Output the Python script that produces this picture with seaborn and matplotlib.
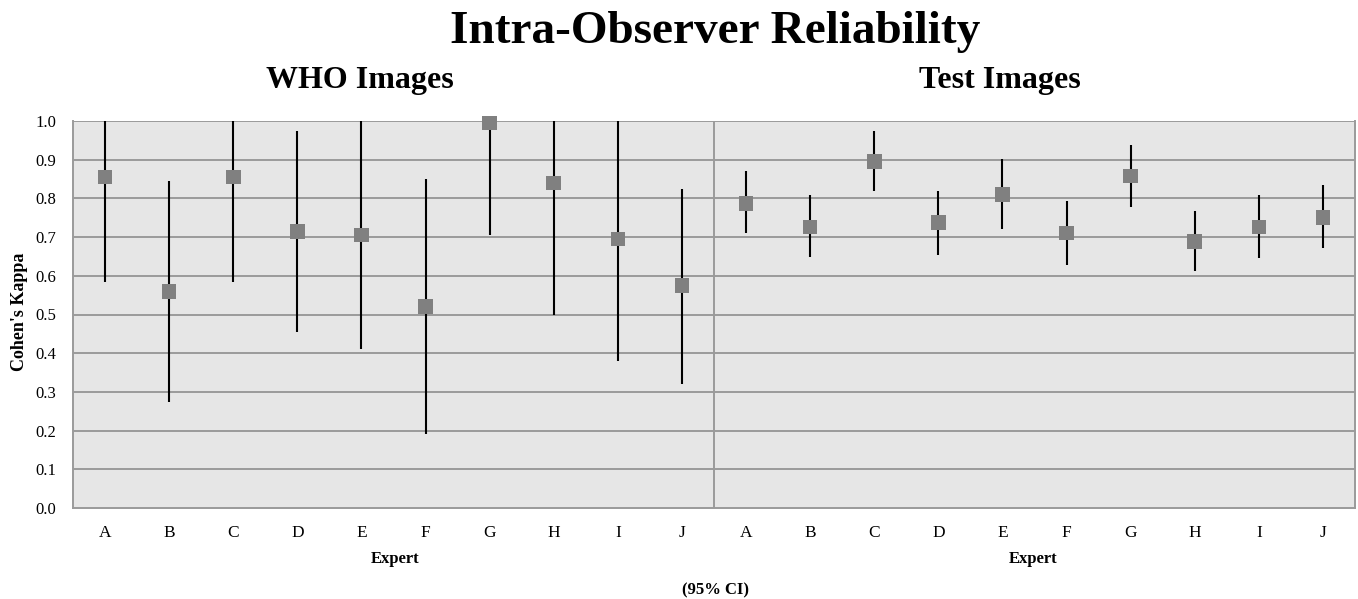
import numpy as np
import pandas as pd
import matplotlib
matplotlib.use("Agg")
import matplotlib.pyplot as plt
import seaborn as sns

experts = ["A", "B", "C", "D", "E", "F", "G", "H", "I", "J"]
groups = ["WHO Images", "Test Images"]

who_kappa = [0.855, 0.56, 0.855, 0.715, 0.705, 0.52, 0.995, 0.84, 0.695, 0.575]
who_lower = [0.585, 0.275, 0.585, 0.455, 0.41, 0.19, 0.705, 0.50, 0.38, 0.32]
who_upper = [1.0, 0.845, 1.0, 0.975, 1.0, 0.85, 1.0, 1.0, 1.0, 0.825]

test_kappa = [0.787, 0.726, 0.896, 0.737, 0.810, 0.711, 0.858, 0.688, 0.726, 0.751]
test_lower = [0.711, 0.649, 0.819, 0.653, 0.722, 0.628, 0.778, 0.612, 0.645, 0.671]
test_upper = [0.871, 0.808, 0.974, 0.819, 0.901, 0.793, 0.937, 0.767, 0.808, 0.834]

yticks = [0.0, 0.1, 0.2, 0.3, 0.4, 0.5, 0.6, 0.7, 0.8, 0.9, 1.0]

df = pd.DataFrame({
    "group": [groups[0]] * 10 + [groups[1]] * 10,
    "expert": experts + experts,
    "kappa": who_kappa + test_kappa,
    "lower": who_lower + test_lower,
    "upper": who_upper + test_upper,
})
df["pos"] = np.arange(len(df))

sns.set_theme(style="white")
plt.rcParams["font.family"] = ["Liberation Serif", "DejaVu Serif"]
plt.rcParams["text.color"] = "black"
plt.rcParams["xtick.color"] = "black"
plt.rcParams["ytick.color"] = "black"

fig = plt.figure(figsize=(13.58, 5.99), dpi=100)
ax = fig.add_axes([73 / 1358, 1 - 508 / 599, (1355 - 73) / 1358, (508 - 121) / 599])
ax.set_facecolor("#e6e6e6")

for y in yticks[1:]:
    ax.axhline(y, color="#9a9a9a", lw=1.4, zorder=1)
ax.axvline(9.5, color="#9a9a9a", lw=1.4, zorder=1)

ax.vlines(df["pos"], df["lower"], df["upper"], color="black", lw=1.5, zorder=2)
sns.scatterplot(data=df, x="pos", y="kappa", marker="s", s=110, color="#808080",
                edgecolor="none", ax=ax, zorder=3, legend=False, clip_on=False)

ax.set_xlim(-0.5, 19.5)
ax.set_ylim(0, 1.0)
ax.set_yticks(yticks)
ax.set_yticklabels([f"{v:.1f}" for v in yticks], fontsize=12)
ax.set_xticks(df["pos"])
ax.set_xticklabels(df["expert"], fontsize=12.5)
ax.tick_params(axis="both", length=0)
ax.tick_params(axis="y", pad=12)
ax.tick_params(axis="x", pad=12)
ax.set_xlabel("")
ax.set_ylabel("")
for side in ["left", "bottom", "right", "top"]:
    ax.spines[side].set_color("#9a9a9a")
    ax.spines[side].set_linewidth(1.4)
ax.spines["top"].set_visible(False)

fig.text(20 / 1358, 1 - 312 / 599, "Cohen's Kappa", ha="center", va="center",
         rotation=90, fontsize=13, fontweight="bold")
fig.text(715 / 1358, 1 - 43 / 599, "Intra-Observer Reliability", ha="center", va="baseline",
         fontsize=34, fontweight="bold")
fig.text(360 / 1358, 1 - 88 / 599, groups[0], ha="center", va="baseline",
         fontsize=23, fontweight="bold")
fig.text(1000 / 1358, 1 - 88 / 599, groups[1], ha="center", va="baseline",
         fontsize=23, fontweight="bold")
fig.text(395 / 1358, 1 - 563 / 599, "Expert", ha="center", va="baseline",
         fontsize=12, fontweight="bold")
fig.text(1033 / 1358, 1 - 563 / 599, "Expert", ha="center", va="baseline",
         fontsize=12, fontweight="bold")
fig.text(715 / 1358, 1 - 594 / 599, "(95% CI)", ha="center", va="baseline",
         fontsize=12, fontweight="bold")

fig.savefig("out.png", dpi=100, facecolor="white")
